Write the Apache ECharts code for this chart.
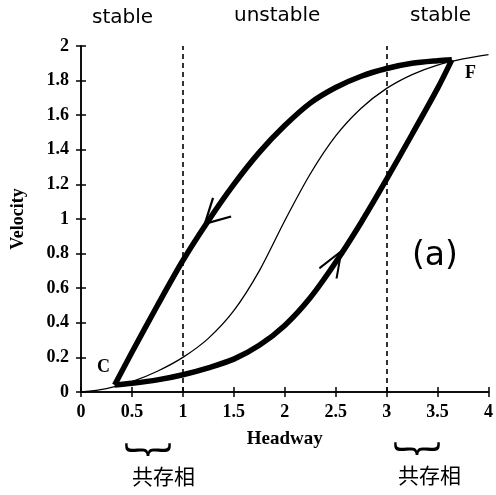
<!DOCTYPE html>
<html>
<head>
<meta charset="utf-8">
<script src="https://cdn.jsdelivr.net/npm/echarts@6/dist/echarts.min.js"></script>
<style>
  html, body { margin: 0; padding: 0; background: #fff; }
  #main { width: 496px; height: 495px; }
</style>
</head>
<body>
<div id="main"></div>
<script>
// thin curve (optimal velocity)
const ovCurve = [
  [0, 0], [0.25, 0.02], [0.5, 0.06], [0.75, 0.12], [1.0, 0.2], [1.25, 0.31],
  [1.5, 0.47], [1.75, 0.7], [2.0, 0.99], [2.25, 1.26], [2.5, 1.48], [2.75, 1.64],
  [3.0, 1.755], [3.25, 1.835], [3.5, 1.89], [3.75, 1.925], [4.0, 1.95]
];
// thick loop, lower branch C -> F
const lowerBranch = [
  [0.33, 0.04], [0.5, 0.05], [0.75, 0.07], [1.0, 0.1], [1.25, 0.14], [1.5, 0.19],
  [1.75, 0.27], [2.0, 0.385], [2.25, 0.545], [2.5, 0.75], [2.75, 0.98], [3.0, 1.23],
  [3.25, 1.49], [3.5, 1.755], [3.64, 1.92]
];
// thick loop, upper branch F -> C
const upperBranch = [
  [3.64, 1.92], [3.5, 1.915], [3.25, 1.9], [3.0, 1.87], [2.75, 1.825], [2.5, 1.76],
  [2.25, 1.67], [2.0, 1.54], [1.75, 1.385], [1.5, 1.2], [1.25, 0.99], [1.0, 0.76],
  [0.75, 0.5], [0.5, 0.23], [0.33, 0.04]
];
const xTicks = [0, 0.5, 1, 1.5, 2, 2.5, 3, 3.5, 4];
const yTicks = [0, 0.2, 0.4, 0.6, 0.8, 1, 1.2, 1.4, 1.6, 1.8, 2];
const dashedAt = [1, 3];
const arrowUp = [2.49, 0.75];
const arrowDown = [1.3, 1.02];

const chevron = 'path://M0,0 L10,24 L20,0';
const serif = 'Liberation Serif';
const hand = 'DejaVu Sans';
const cjk = '"Noto Sans CJK SC"';

let chart = echarts.init(document.getElementById('main'));

let frameAxis = {
  type: 'value',
  axisLine: { show: true, lineStyle: { color: '#000', width: 1.5 } },
  axisTick: { show: true, inside: true, length: 5, lineStyle: { color: '#000', width: 1.5 } },
  axisLabel: { show: false },
  splitLine: { show: false }
};

let option = {
  animation: false,
  grid: { left: 81, right: 4, top: 46, bottom: 103 },
  xAxis: [
    {
      type: 'value', min: 0, max: 4, interval: 0.5,
      name: 'Headway', nameLocation: 'middle', nameGap: 38,
      nameTextStyle: { fontFamily: serif, fontWeight: 'bold', fontSize: 19, color: '#000' },
      axisLine: { lineStyle: { color: '#000', width: 1.5 } },
      axisTick: { inside: true, length: 5, lineStyle: { color: '#000', width: 1.5 } },
      axisLabel: {
        margin: 11, fontFamily: serif, fontWeight: 'bold', fontSize: 18, color: '#000',
        formatter: v => xTicks.includes(v) ? String(v) : ''
      },
      splitLine: { show: false }
    },
    Object.assign({}, frameAxis, { min: 0, max: 4, interval: 0.5, position: 'top' })
  ],
  yAxis: [
    {
      type: 'value', min: 0, max: 2, interval: 0.2,
      name: 'Velocity', nameLocation: 'middle', nameGap: 54,
      nameTextStyle: { fontFamily: serif, fontWeight: 'bold', fontSize: 18, color: '#000' },
      axisLine: { show: true, lineStyle: { color: '#000', width: 1.5 } },
      axisTick: { show: true, inside: true, length: 5, lineStyle: { color: '#000', width: 1.5 } },
      axisLabel: {
        margin: 12, fontFamily: serif, fontWeight: 'bold', fontSize: 18, color: '#000',
        formatter: v => {
          let r = Math.round(v * 10) / 10;
          return yTicks.includes(r) ? String(r) : '';
        }
      },
      splitLine: { show: false }
    },
    Object.assign({}, frameAxis, { min: 0, max: 2, interval: 0.2, position: 'right' })
  ],
  series: [
    {
      name: 'ov', type: 'line', data: ovCurve, smooth: 0.3, showSymbol: false,
      lineStyle: { color: '#000', width: 1.3 },
      markLine: {
        silent: true, symbol: 'none', label: { show: false },
        lineStyle: { color: '#000', type: [5, 4], width: 1.6 },
        data: dashedAt.map(x => ({ xAxis: x }))
      }
    },
    {
      name: 'lower', type: 'line', data: lowerBranch, smooth: 0.3, showSymbol: false,
      lineStyle: { color: '#000', width: 5.5 },
      markPoint: {
        symbol: chevron, symbolSize: [20, 26], symbolRotate: 149,
        itemStyle: { color: 'none', borderColor: '#000', borderWidth: 2.2 },
        label: { show: false },
        data: [{ coord: arrowUp }]
      }
    },
    {
      name: 'upper', type: 'line', data: upperBranch, smooth: 0.3, showSymbol: false,
      lineStyle: { color: '#000', width: 5.5 },
      markPoint: {
        symbol: chevron, symbolSize: [26, 24], symbolRotate: -46,
        itemStyle: { color: 'none', borderColor: '#000', borderWidth: 2.2 },
        label: { show: false },
        data: [{ coord: arrowDown }]
      }
    }
  ],
  graphic: [
    { type: 'text', left: 92, top: 8, style: { text: 'stable', font: '20px ' + hand, fill: '#000' } },
    { type: 'text', left: 234, top: 6, style: { text: 'unstable', font: '20px ' + hand, fill: '#000' } },
    { type: 'text', left: 410, top: 6, style: { text: 'stable', font: '20px ' + hand, fill: '#000' } },
    { type: 'text', left: 97, top: 358, style: { text: 'C', font: 'bold 18px ' + serif, fill: '#000' } },
    { type: 'text', left: 465, top: 64, style: { text: 'F', font: 'bold 18px ' + serif, fill: '#000' } },
    { type: 'text', left: 412, top: 240, style: { text: '(a)', font: '33px ' + hand, fill: '#000' } },
    { type: 'text', left: 124, top: 442, style: { text: '︸', font: '48px ' + cjk, fill: '#000' } },
    { type: 'text', left: 393, top: 441, style: { text: '︸', font: '48px ' + cjk, fill: '#000' } },
    { type: 'text', left: 132, top: 466, style: { text: '共存相', font: '21px ' + cjk, fill: '#000' } },
    { type: 'text', left: 398, top: 465, style: { text: '共存相', font: '21px ' + cjk, fill: '#000' } }
  ]
};

chart.setOption(option);
</script>
</body>
</html>
